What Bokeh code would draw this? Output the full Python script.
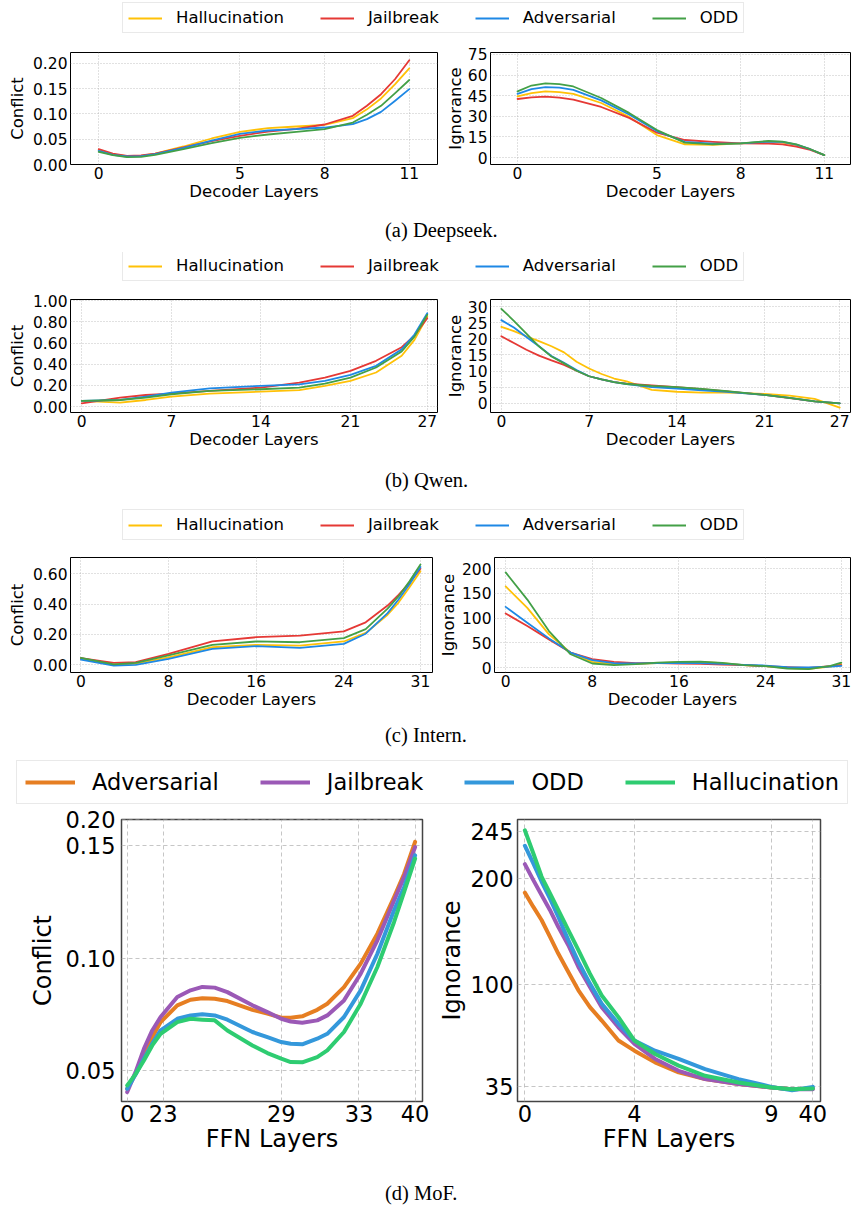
import numpy as np
from bokeh.plotting import figure
from bokeh.models import Legend, LegendItem, FixedTicker, Range1d, Div
from bokeh.layouts import column, row
from bokeh.embed import file_html
from bokeh.resources import INLINE

# ---------------- data ----------------
names_abc = ["Hallucination", "Jailbreak", "Adversarial", "ODD"]
colors_abc = ["#FFC107", "#E53935", "#1E88E5", "#43A047"]
names_d = ["Adversarial", "Jailbreak", "ODD", "Hallucination"]
colors_d = ["#E67E22", "#9B59B6", "#3498DB", "#2ECC71"]

# (a) Deepseek
a_layers = [0, 0.5, 1, 1.5, 2, 3, 4, 5, 6, 7, 8, 9, 9.5, 10, 10.5, 11]
a_conf_hall = [0.0283, 0.0198, 0.0165, 0.0171, 0.0217, 0.0356, 0.0514, 0.0646, 0.0718, 0.0751, 0.0784, 0.0916, 0.109, 0.1305, 0.159, 0.190]
a_conf_jail = [0.0303, 0.0217, 0.0171, 0.0178, 0.0217, 0.0336, 0.0461, 0.0567, 0.0652, 0.0705, 0.0791, 0.0962, 0.116, 0.139, 0.169, 0.206]
a_conf_adv = [0.0270, 0.0191, 0.0158, 0.0165, 0.0204, 0.0330, 0.0474, 0.0606, 0.0672, 0.0699, 0.0731, 0.0797, 0.0896, 0.104, 0.126, 0.149]
a_conf_odd = [0.0250, 0.0184, 0.0145, 0.0152, 0.0191, 0.0303, 0.0422, 0.0527, 0.0593, 0.0646, 0.0699, 0.0830, 0.0982, 0.116, 0.141, 0.167]
a_ign_hall = [44.5, 46.9, 48.1, 47.6, 46.4, 39.7, 29.6, 16.4, 9.7, 9.2, 10.4, 11.4, 10.9, 9.0, 6.1, 1.8]
a_ign_jail = [42.6, 43.8, 44.3, 43.6, 42.1, 36.8, 28.9, 18.1, 12.8, 11.4, 10.4, 10.2, 9.7, 8.0, 5.6, 1.8]
a_ign_adv = [46.4, 49.8, 51.2, 50.8, 49.3, 41.6, 31.3, 19.3, 11.4, 10.2, 10.4, 11.6, 11.4, 9.5, 6.1, 1.8]
a_ign_odd = [48.1, 52.4, 53.9, 53.4, 51.7, 43.3, 32.5, 20.0, 10.9, 9.7, 10.4, 12.1, 11.6, 9.7, 6.1, 1.8]
a_xticks = [0, 5, 8, 11]
a_xlabels = ["0", "5", "8", "11"]
a_conf_ticks = [0.0, 0.05, 0.10, 0.15, 0.20]
a_conf_labels = ["0.00", "0.05", "0.10", "0.15", "0.20"]
a_ign_ticks = [0, 15, 30, 45, 60, 75]
a_ign_labels = ["0", "15", "30", "45", "60", "75"]

# (b) Qwen
b_conf_layers = [0, 3, 5, 7, 10, 14, 17, 19, 21, 23, 25, 26, 27]
b_conf_hall = [0.054, 0.038, 0.063, 0.095, 0.123, 0.142, 0.155, 0.196, 0.243, 0.322, 0.480, 0.630, 0.849]
b_conf_jail = [0.032, 0.085, 0.110, 0.123, 0.148, 0.180, 0.227, 0.274, 0.338, 0.432, 0.560, 0.670, 0.833]
b_conf_adv = [0.054, 0.063, 0.095, 0.132, 0.173, 0.196, 0.211, 0.243, 0.300, 0.385, 0.540, 0.680, 0.880]
b_conf_odd = [0.054, 0.063, 0.085, 0.117, 0.148, 0.164, 0.180, 0.218, 0.274, 0.369, 0.520, 0.660, 0.867]
b_ign_layers = [0, 1, 2, 3, 4, 5, 6, 7, 8, 9, 10, 12, 14, 16, 18, 21, 23, 25, 27]
b_ign_hall = [23.7, 22.4, 20.8, 19.3, 17.7, 15.8, 12.9, 10.8, 9.1, 7.7, 6.8, 4.2, 3.6, 3.3, 3.3, 2.9, 2.4, 1.4, -1.3]
b_ign_jail = [20.8, 18.7, 16.6, 14.8, 13.3, 11.9, 10.1, 8.4, 7.4, 6.6, 6.1, 5.6, 5.05, 4.4, 3.7, 2.6, 1.6, 0.6, 0.0]
b_ign_adv = [25.8, 23.5, 20.6, 17.7, 14.7, 12.6, 10.3, 8.4, 7.4, 6.6, 6.0, 5.05, 4.6, 4.0, 3.6, 2.6, 1.7, 0.6, 0.0]
b_ign_odd = [29.3, 25.6, 21.6, 17.7, 14.5, 12.4, 10.1, 8.4, 7.4, 6.6, 6.0, 5.4, 5.05, 4.5, 3.8, 2.6, 1.7, 0.6, 0.0]
b_xticks = [0, 7, 14, 21, 27]
b_xlabels = ["0", "7", "14", "21", "27"]
b_conf_ticks = [0.0, 0.2, 0.4, 0.6, 0.8, 1.0]
b_conf_labels = ["0.00", "0.20", "0.40", "0.60", "0.80", "1.00"]
b_ign_ticks = [0, 5, 10, 15, 20, 25, 30]
b_ign_labels = ["0", "5", "10", "15", "20", "25", "30"]

# (c) Intern
c_conf_layers = [0, 3, 5, 8, 12, 16, 20, 24, 26, 28, 29, 30, 31]
c_conf_hall = [0.044, 0.000, 0.009, 0.050, 0.116, 0.132, 0.127, 0.154, 0.210, 0.330, 0.410, 0.510, 0.615]
c_conf_jail = [0.044, 0.013, 0.018, 0.073, 0.154, 0.182, 0.193, 0.220, 0.280, 0.390, 0.460, 0.540, 0.633]
c_conf_adv = [0.035, -0.004, 0.000, 0.040, 0.105, 0.123, 0.112, 0.138, 0.205, 0.340, 0.430, 0.530, 0.644]
c_conf_odd = [0.046, 0.004, 0.013, 0.062, 0.132, 0.154, 0.149, 0.176, 0.235, 0.370, 0.450, 0.550, 0.660]
c_ign_layers = [0, 2, 4, 6, 8, 10, 12, 14, 16, 18, 20, 22, 24, 26, 28, 30, 31]
c_ign_hall = [164.4, 120.8, 67.1, 30.2, 11.4, 6.7, 6.7, 8.7, 10.7, 11.4, 8.7, 4.7, 2.7, -1.3, -2.7, 2.0, 6.7]
c_ign_jail = [109.4, 83.9, 57.0, 30.2, 16.8, 11.4, 8.7, 8.7, 8.1, 7.4, 6.0, 4.7, 2.7, 0.7, -0.7, 2.7, 4.7]
c_ign_adv = [122.8, 90.6, 59.0, 30.2, 14.8, 8.7, 8.1, 8.7, 9.4, 8.7, 7.4, 5.4, 4.0, 0.7, 0.0, 2.0, 3.4]
c_ign_odd = [192.6, 137.6, 73.8, 26.8, 8.1, 4.7, 6.7, 10.0, 11.4, 12.1, 9.4, 4.7, 2.7, -2.0, -3.4, 3.4, 10.0]
c_xticks = [0, 8, 16, 24, 31]
c_xlabels = ["0", "8", "16", "24", "31"]
c_conf_ticks = [0.0, 0.2, 0.4, 0.6]
c_conf_labels = ["0.00", "0.20", "0.40", "0.60"]
c_ign_ticks = [0, 50, 100, 150, 200]
c_ign_labels = ["0", "50", "100", "150", "200"]

# (d) MoF  (x: position along the FFN-layer axis, 0 = first tick, 1 = last tick)
d_conf_pos = [0, 0.029, 0.058, 0.087, 0.116, 0.174, 0.22, 0.261, 0.304, 0.348, 0.435, 0.487,
              0.535, 0.568, 0.608, 0.66, 0.695, 0.753, 0.811, 0.869, 0.927, 0.962, 1.0]
d_conf_adv = [0.0417, 0.0484, 0.0573, 0.0647, 0.0714, 0.0789, 0.0814, 0.0821, 0.0818, 0.0808, 0.0769, 0.0752,
              0.0734, 0.0734, 0.0740, 0.0769, 0.0796, 0.0870, 0.0975, 0.1109, 0.1272, 0.1376, 0.1578]
d_conf_jail = [0.0402, 0.0491, 0.0595, 0.0677, 0.0737, 0.0826, 0.0856, 0.0871, 0.0868, 0.0848, 0.0789, 0.0759,
               0.0729, 0.0717, 0.0711, 0.0722, 0.0744, 0.0811, 0.0930, 0.1079, 0.1257, 0.1362, 0.1495]
d_conf_odd = [0.0417, 0.0480, 0.0551, 0.0618, 0.0677, 0.0729, 0.0744, 0.0749, 0.0744, 0.0725, 0.0670, 0.0647,
              0.0625, 0.0618, 0.0615, 0.0640, 0.0662, 0.0737, 0.0856, 0.1019, 0.1213, 0.1317, 0.1458]
d_conf_hall = [0.0432, 0.0482, 0.0543, 0.0610, 0.0662, 0.0714, 0.0729, 0.0725, 0.0722, 0.0677, 0.0610, 0.0576,
               0.0551, 0.0536, 0.0535, 0.0558, 0.0588, 0.0670, 0.0796, 0.0960, 0.1161, 0.1295, 0.1443]
d_conf_xticks = [0, 0.125, 0.5355, 0.805, 1.0]
d_conf_xlabels = ["0", "23", "29", "33", "40"]
d_conf_yvals = [0.05, 0.10, 0.15, 0.20]
d_conf_ylabels = ["0.05", "0.10", "0.15", "0.20"]

d_ign_pos = [0, 0.029, 0.058, 0.087, 0.116, 0.151, 0.186, 0.226, 0.267, 0.325, 0.3805, 0.452,
             0.534, 0.626, 0.742, 0.856, 0.928, 1.0]
d_ign_adv = [187.0, 173.7, 161.1, 145.3, 129.4, 112.0, 96.4, 85.6, 77.0, 64.2, 57.7, 50.2,
             43.8, 39.5, 36.3, 34.1, 33.0, 33.5]
d_ign_jail = [213.9, 199.0, 184.8, 170.6, 154.7, 137.3, 116.8, 98.5, 85.6, 72.7, 62.0, 52.4,
              44.8, 39.5, 36.3, 34.1, 33.0, 33.0]
d_ign_odd = [231.3, 214.9, 197.5, 181.6, 164.2, 142.1, 121.5, 101.0, 87.8, 74.9, 64.2, 57.7,
             52.4, 45.9, 39.5, 34.5, 32.4, 34.5]
d_ign_hall = [245.9, 224.4, 202.2, 186.4, 170.6, 151.6, 132.6, 110.4, 93.1, 79.2, 64.2, 55.6,
              48.1, 41.6, 37.3, 34.1, 33.0, 33.5]
d_ign_xticks = [0, 0.3805, 0.856, 1.0]
d_ign_xlabels = ["0", "4", "9", "40"]
d_ign_yvals = [35, 100, 200, 245]
d_ign_ylabels = ["35", "100", "200", "245"]

captions = ["(a) Deepseek.", "(b) Qwen.", "(c) Intern.", "(d) MoF."]


# piecewise axis scales used by the MoF panels
def warp_conf(v):
    return v if v <= 0.15 else 0.15 + (v - 0.15) * 0.232


def warp_ign(v):
    return v if v >= 100 else 100 - (100 - v) * 1.475


FONT = "DejaVu Sans"


def panel(width, height, bl, br, bt, bb, xs_list, ys_list, colors, lw,
          xr, yr, xt, xtl, yt, ytl, xlabel, ylabel, tick_fs, lab_fs,
          xms, xls, yms, yls, grid_dash, grid_color, grid_alpha, outline_color, outline_w):
    p = figure(width=width, height=height, toolbar_location=None, output_backend="svg",
               x_range=Range1d(*xr), y_range=Range1d(*yr), title=None,
               min_border_left=bl, min_border_right=br, min_border_top=bt, min_border_bottom=bb)
    for xs, ys, c in zip(xs_list, ys_list, colors):
        p.line(xs, ys, line_color=c, line_width=lw, line_join="round", line_cap="round")
    p.xaxis.ticker = FixedTicker(ticks=xt)
    p.yaxis.ticker = FixedTicker(ticks=yt)
    p.xgrid.ticker = FixedTicker(ticks=xt)
    p.ygrid.ticker = FixedTicker(ticks=yt)
    p.xaxis.major_label_overrides = {k: v for k, v in zip(xt, xtl)}
    p.yaxis.major_label_overrides = {k: v for k, v in zip(yt, ytl)}
    p.xaxis.axis_label = xlabel
    p.yaxis.axis_label = ylabel
    for ax in (p.xaxis[0], p.yaxis[0]):
        ax.axis_line_color = None
        ax.major_tick_line_color = None
        ax.minor_tick_line_color = None
        ax.major_tick_out = 0
        ax.major_tick_in = 0
        ax.major_label_text_font = FONT
        ax.major_label_text_font_size = tick_fs
        ax.major_label_text_color = "black"
        ax.axis_label_text_font = FONT
        ax.axis_label_text_font_size = lab_fs
        ax.axis_label_text_font_style = "normal"
        ax.axis_label_text_color = "black"
    p.xaxis.major_label_standoff = xms
    p.xaxis.axis_label_standoff = xls
    p.yaxis.major_label_standoff = yms
    p.yaxis.axis_label_standoff = yls
    for g in (p.xgrid[0], p.ygrid[0]):
        g.grid_line_color = grid_color
        g.grid_line_dash = grid_dash
        g.grid_line_alpha = grid_alpha
        g.grid_line_width = 1
    p.outline_line_color = outline_color
    p.outline_line_width = outline_w
    p.outline_line_alpha = 1.0
    p.background_fill_color = "white"
    p.border_fill_color = "white"
    return p


def legend_fig(width, height, names, colors, lw, fs, gw, standoff, spacing, padding, xo, yo):
    p = figure(width=width, height=height, toolbar_location=None, output_backend="svg",
               x_range=Range1d(0, 1), y_range=Range1d(0, 1), title=None,
               x_axis_type=None, y_axis_type=None, min_border=0)
    p.grid.visible = False
    p.outline_line_color = None
    items = []
    for n, c in zip(names, colors):
        # legend-key line only: its two points lie outside the visible range
        r = p.line(x=[-10, -9], y=[-10, -10], line_color=c, line_width=lw)
        items.append(LegendItem(label=n, renderers=[r]))
    leg = Legend(items=items, orientation="horizontal", location=(xo, yo), margin=0,
                 padding=padding, spacing=spacing, label_standoff=standoff,
                 glyph_width=gw, glyph_height=16, label_height=16,
                 label_text_font=FONT, label_text_font_size=fs, label_text_color="black",
                 border_line_color="#d4d4d4", border_line_width=1, background_fill_color="white",
                 background_fill_alpha=1.0)
    p.add_layout(leg)
    return p


def caption(text, height, offset=0):
    html = '<div style="position:relative;top:%dpx;padding-left:385px">%s</div>' % (offset, text)
    return Div(text=html, width=852, height=height,
               styles={"font-family": "Liberation Serif", "font-size": "20.5px",
                       "text-align": "left", "line-height": "%dpx" % height, "color": "black",
                       "margin": "0", "padding": "0"})


ABC = dict(lw=1.8, tick_fs="15.5px", lab_fs="16.5px", xms=2, xls=0,
           grid_dash="1 2", grid_color="#9a9a9a", grid_alpha=0.6, outline_color="black", outline_w=1)

# ---------- row a ----------
legA = legend_fig(852, 40, names_abc, colors_abc, 2, "16.5px", 34, 14, 36, 5, 122, 7)
aL = panel(442, 168, 70, 5, 12, 44, [a_layers] * 4, [a_conf_hall, a_conf_jail, a_conf_adv, a_conf_odd],
           colors_abc, xr=(-1, 12), yr=(0, 0.2214), xt=a_xticks, xtl=a_xlabels, yt=a_conf_ticks, ytl=a_conf_labels,
           xlabel="Decoder Layers", ylabel="Conflict", yms=3, yls=3, **ABC)
aR = panel(409, 168, 42, 1, 12, 44, [a_layers] * 4, [a_ign_hall, a_ign_jail, a_ign_adv, a_ign_odd],
           colors_abc, xr=(-0.97, 11.94), yr=(-5, 76.4), xt=a_xticks, xtl=a_xlabels, yt=a_ign_ticks, ytl=a_ign_labels,
           xlabel="Decoder Layers", ylabel="Ignorance", yms=3, yls=0, **ABC)
capA = caption(captions[0], 44)

# ---------- row b ----------
legB = legend_fig(852, 36, names_abc, colors_abc, 2, "16.5px", 34, 14, 36, 5, 122, 7)
bL = panel(442, 168, 70, 5, 11, 44, [b_conf_layers] * 4, [b_conf_hall, b_conf_jail, b_conf_adv, b_conf_odd],
           colors_abc, xr=(-0.88, 27.8), yr=(-0.055, 1.01), xt=b_xticks, xtl=b_xlabels, yt=b_conf_ticks, ytl=b_conf_labels,
           xlabel="Decoder Layers", ylabel="Conflict", yms=3, yls=3, **ABC)
bR = panel(409, 168, 42, 1, 11, 44, [b_ign_layers] * 4, [b_ign_hall, b_ign_jail, b_ign_adv, b_ign_odd],
           colors_abc, xr=(-0.865, 27.86), yr=(-2.84, 32.2), xt=b_xticks, xtl=b_xlabels, yt=b_ign_ticks, ytl=b_ign_labels,
           xlabel="Decoder Layers", ylabel="Ignorance", yms=3, yls=0, **ABC)
capB = caption(captions[1], 48)

# ---------- row c ----------
legC = legend_fig(852, 41, names_abc, colors_abc, 2, "16.5px", 34, 14, 36, 5, 122, 5)
cL = panel(435, 168, 70, 3, 12, 41, [c_conf_layers] * 4, [c_conf_hall, c_conf_jail, c_conf_adv, c_conf_odd],
           colors_abc, xr=(-0.95, 32.1), yr=(-0.05, 0.706), xt=c_xticks, xtl=c_xlabels, yt=c_conf_ticks, ytl=c_conf_labels,
           xlabel="Decoder Layers", ylabel="Conflict", yms=3, yls=3, **ABC)
cR = panel(416, 168, 54, 1, 12, 41, [c_ign_layers] * 4, [c_ign_hall, c_ign_jail, c_ign_adv, c_ign_odd],
           colors_abc, xr=(-1.03, 31.85), yr=(-10.1, 222.8), xt=c_xticks, xtl=c_xlabels, yt=c_ign_ticks, ytl=c_ign_labels,
           xlabel="Decoder Layers", ylabel="Ignorance", yms=3, yls=1, **ABC)
capC = caption(captions[2], 44)

# ---------- row d ----------
D = dict(lw=4, tick_fs="22.5px", lab_fs="24px", xms=3, xls=0,
         grid_dash="4 3", grid_color="#b8b8b8", grid_alpha=0.8, outline_color="#444444", outline_w=1.5)
legD = legend_fig(852, 51, names_d, colors_d, 4, "22.5px", 50, 17, 41, 8, 16, 4)
dcy = [[warp_conf(v) for v in s] for s in (d_conf_adv, d_conf_jail, d_conf_odd, d_conf_hall)]
dL = panel(430, 357, 121, 8, 11, 64, [d_conf_pos] * 4, dcy, colors_d,
           xr=(-0.0198, 1.0257), yr=(0.036, 0.1618), xt=d_conf_xticks, xtl=d_conf_xlabels,
           yt=[warp_conf(v) for v in d_conf_yvals], ytl=d_conf_ylabels,
           xlabel="FFN Layers", ylabel="Conflict", yms=6, yls=5, **D)
diy = [[warp_ign(v) for v in s] for s in (d_ign_adv, d_ign_jail, d_ign_odd, d_ign_hall)]
dR = panel(421, 357, 87, 31, 11, 64, [d_ign_pos] * 4, diy, colors_d,
           xr=(-0.0255, 1.0267), yr=(-10.43, 256.1), xt=d_ign_xticks, xtl=d_ign_xlabels,
           yt=[warp_ign(v) for v in d_ign_yvals], ytl=d_ign_ylabels,
           xlabel="FFN Layers", ylabel="Ignorance", yms=4, yls=2, **D)
capD = caption(captions[3], 42, offset=7)

layout = column(legA, row(aL, aR), capA,
                legB, row(bL, bR), capB,
                legC, row(cL, cR), capC,
                legD, row(dL, dR), capD)

open("out.html", "w").write(file_html(layout, INLINE))
